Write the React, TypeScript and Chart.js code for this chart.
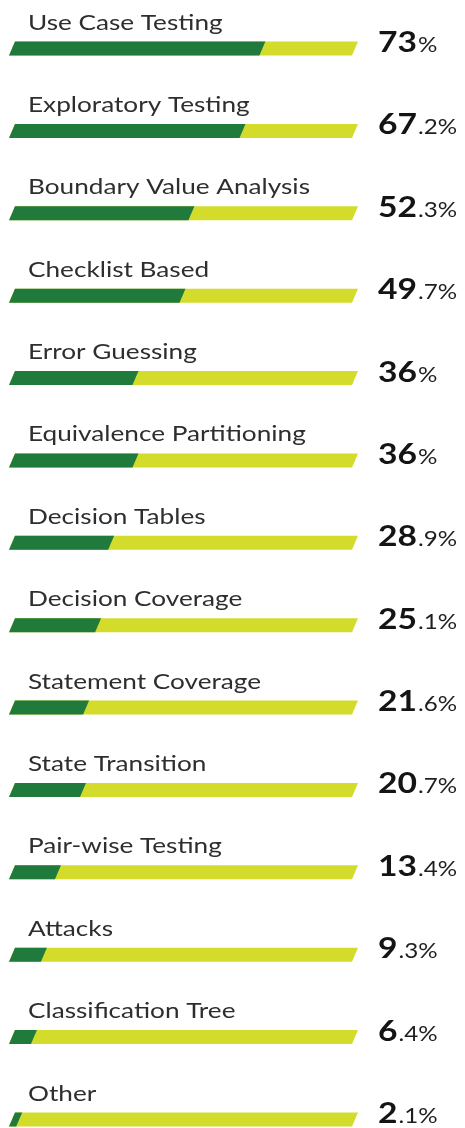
import React, { useEffect, useRef } from "react";
import { Chart, registerables } from "chart.js";

Chart.register(...registerables);

const categories: string[] = [
  "Use Case Testing",
  "Exploratory Testing",
  "Boundary Value Analysis",
  "Checklist Based",
  "Error Guessing",
  "Equivalence Partitioning",
  "Decision Tables",
  "Decision Coverage",
  "Statement Coverage",
  "State Transition",
  "Pair-wise Testing",
  "Attacks",
  "Classification Tree",
  "Other",
];

const percentValues: number[] = [73, 67.2, 52.3, 49.7, 36, 36, 28.9, 25.1, 21.6, 20.7, 13.4, 9.3, 6.4, 2.1];

const trackValues: number[] = [100, 100, 100, 100, 100, 100, 100, 100, 100, 100, 100, 100, 100, 100];

const DARK = "#1f7a3c";
const LIGHT = "#d3dc2a";
const SLANT = 6;
const LABEL_FONT = "22px Lato";
const BIG_FONT = "bold 28px Lato";
const SMALL_FONT = "22px Lato";
const LABEL_SCALE = 1.19;
const BIG_SCALE = 1.2;
const SMALL_SCALE = 1.1;

const slantedBars = {
  id: "slantedBars",
  beforeDatasetDraw(chart: any, args: any) {
    const { ctx } = chart;
    const ds = chart.data.datasets[args.index];
    ctx.save();
    ctx.fillStyle = ds.backgroundColor;
    args.meta.data.forEach((el: any) => {
      const { x, y, base, height } = el.getProps(["x", "y", "base", "height"], true);
      const top = y - height / 2;
      const bottom = y + height / 2;
      ctx.beginPath();
      ctx.moveTo(base, bottom);
      ctx.lineTo(base + SLANT, top);
      ctx.lineTo(x + SLANT, top);
      ctx.lineTo(x, bottom);
      ctx.closePath();
      ctx.fill();
    });
    ctx.restore();
    return false;
  },
};

const textPlugin = {
  id: "textPlugin",
  afterDraw(chart: any) {
    const { ctx } = chart;
    const meta = chart.getDatasetMeta(0);
    ctx.save();
    ctx.textBaseline = "alphabetic";
    ctx.textAlign = "left";
    meta.data.forEach((el: any, i: number) => {
      const { y, base } = el.getProps(["y", "base"], true);
      // category label
      ctx.save();
      ctx.translate(base + 19, y - 19);
      ctx.scale(LABEL_SCALE, 1);
      ctx.font = LABEL_FONT;
      ctx.fillStyle = "#2e2e2e";
      ctx.fillText(categories[i], 0, 0);
      ctx.restore();
      // value
      const v = percentValues[i];
      const s = String(v);
      const dot = s.indexOf(".");
      const intPart = dot >= 0 ? s.slice(0, dot) : s;
      const rest = (dot >= 0 ? s.slice(dot) : "") + "%";
      ctx.save();
      ctx.translate(378, y + 3.5);
      ctx.save();
      ctx.scale(BIG_SCALE, 1);
      ctx.fillStyle = "#141414";
      ctx.font = BIG_FONT;
      ctx.fillText(intPart, 0, 0);
      const w = ctx.measureText(intPart).width * BIG_SCALE;
      ctx.restore();
      ctx.translate(w + 1, 0);
      ctx.scale(SMALL_SCALE, 1);
      ctx.font = SMALL_FONT;
      ctx.fillStyle = "#1e1e1e";
      ctx.fillText(rest, 0, 0);
      ctx.restore();
    });
    ctx.restore();
  },
};

export default function App() {
  const canvasRef = useRef<HTMLCanvasElement | null>(null);

  useEffect(() => {
    document.body.style.margin = "0";
    const canvas = canvasRef.current;
    if (!canvas) return;
    const chart = new Chart(canvas, {
      type: "bar",
      data: {
        labels: categories,
        datasets: [
          {
            label: "Share",
            data: percentValues,
            backgroundColor: DARK,
            barThickness: 14,
            grouped: false,
            clip: false,
          } as any,
          {
            label: "Track",
            data: trackValues,
            backgroundColor: LIGHT,
            barThickness: 14,
            grouped: false,
            clip: false,
          } as any,
        ],
      },
      options: {
        indexAxis: "y",
        animation: false,
        responsive: false,
        maintainAspectRatio: false,
        layout: { padding: { left: 9, right: 113, top: 48.5, bottom: 8.5 } },
        scales: {
          x: { display: false, min: 0, max: 100 },
          y: { display: false, offset: false },
        },
        plugins: {
          legend: { display: false },
          tooltip: { enabled: false },
        },
      },
      plugins: [slantedBars, textPlugin],
    });
    return () => chart.destroy();
  }, []);

  return (
    <div style={{ position: "absolute", left: 0, top: 0, width: 465, height: 1128, background: "#fff" }}>
      <canvas ref={canvasRef} width={465} height={1128} />
    </div>
  );
}
